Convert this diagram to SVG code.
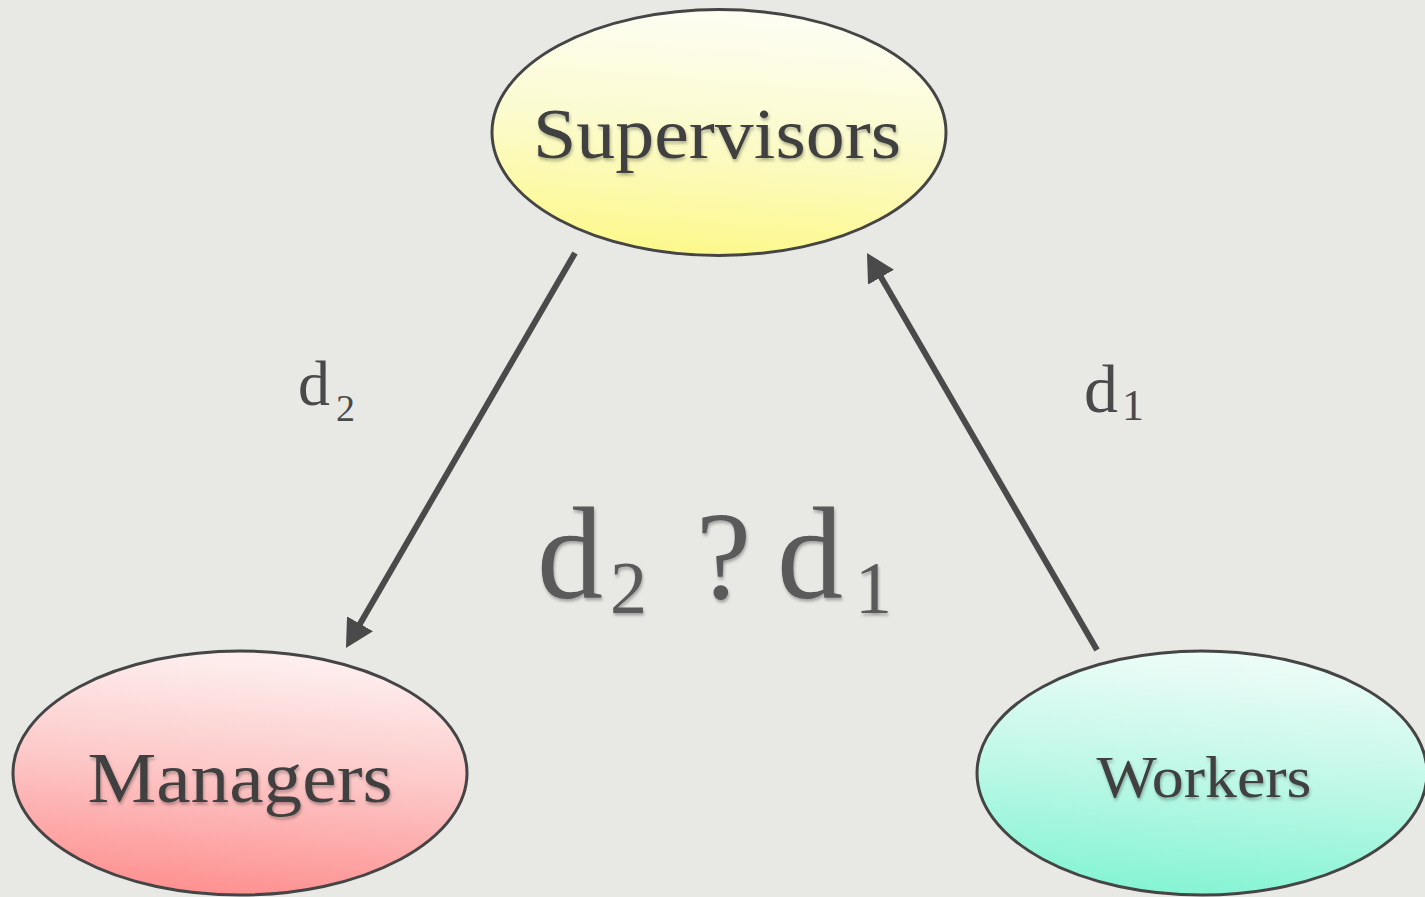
<svg xmlns="http://www.w3.org/2000/svg" width="1425" height="897" viewBox="0 0 1425 897">
  <defs>
    <linearGradient id="gradYellow" x1="0.35" y1="0" x2="0.2" y2="1">
      <stop offset="0" stop-color="#fdfdf2"/>
      <stop offset="0.45" stop-color="#fbfbcf"/>
      <stop offset="1" stop-color="#fdf886"/>
    </linearGradient>
    <linearGradient id="gradRed" x1="0.35" y1="0" x2="0.2" y2="1">
      <stop offset="0" stop-color="#feeeee"/>
      <stop offset="0.45" stop-color="#fdc9c9"/>
      <stop offset="1" stop-color="#fe8c8c"/>
    </linearGradient>
    <linearGradient id="gradTeal" x1="0.35" y1="0" x2="0.2" y2="1">
      <stop offset="0" stop-color="#ecfcf7"/>
      <stop offset="0.45" stop-color="#c2f8e8"/>
      <stop offset="1" stop-color="#80f4d2"/>
    </linearGradient>
    <filter id="textShadow" x="-10%" y="-20%" width="120%" height="150%">
      <feDropShadow dx="1" dy="2.5" stdDeviation="1.8" flood-color="#000" flood-opacity="0.3"/>
    </filter>
    <marker id="arrowHead" viewBox="0 0 28 30" refX="8" refY="15" markerWidth="28" markerHeight="30" markerUnits="userSpaceOnUse" orient="auto">
      <path d="M0,0 L28,15 L0,30 Z" fill="#4a4a4a"/>
    </marker>
  </defs>
  <style>
    .node { stroke: #454545; stroke-width: 3; }
    .label { font-family: "Liberation Serif", "DejaVu Serif", serif; fill: #3f3f3f; filter: url(#textShadow); }
    .edgeLabel { font-family: "Liberation Serif", "DejaVu Serif", serif; fill: #4a4a4a; }
    .bigLabel { font-family: "Liberation Serif", "DejaVu Serif", serif; fill: #5a5a5a; filter: url(#textShadow); }
    .edge { stroke: #4a4a4a; stroke-width: 6; fill: none; marker-end: url(#arrowHead); }
  </style>

  <!-- backdrop -->
  <rect width="1425" height="897" fill="#e8e8e5"/>

  <!-- connectors -->
  <g id="connectors">
    <line class="edge" x1="575" y1="253" x2="356" y2="630.7"/>
    <line class="edge" x1="1097" y1="650" x2="877" y2="270.3"/>
    <text class="edgeLabel"><tspan x="298" y="405" font-size="64">d</tspan><tspan x="336" y="421" font-size="38">2</tspan></text>
    <text class="edgeLabel"><tspan x="1084" y="412" font-size="68">d</tspan><tspan x="1122" y="420" font-size="44">1</tspan></text>
  </g>

  <!-- nodes -->
  <g id="supervisors">
    <ellipse class="node" cx="719" cy="132.5" rx="227" ry="123" fill="url(#gradYellow)"/>
    <text class="label" x="717" y="158" font-size="72" text-anchor="middle" textLength="368" lengthAdjust="spacingAndGlyphs">Supervisors</text>
  </g>
  <g id="managers">
    <ellipse class="node" cx="240" cy="773" rx="227" ry="122" fill="url(#gradRed)"/>
    <text class="label" x="240" y="802" font-size="72" text-anchor="middle" textLength="305" lengthAdjust="spacingAndGlyphs">Managers</text>
  </g>
  <g id="workers">
    <ellipse class="node" cx="1202" cy="773" rx="225" ry="122" fill="url(#gradTeal)"/>
    <text class="label" x="1204" y="797" font-size="60" text-anchor="middle" textLength="215" lengthAdjust="spacingAndGlyphs">Workers</text>
  </g>

  <!-- central comparison -->
  <g id="comparison">
    <text class="bigLabel"><tspan x="537" y="598" font-size="132">d</tspan><tspan x="610" y="613" font-size="74">2</tspan><tspan x="696" y="598" font-size="124">?</tspan><tspan x="777" y="598" font-size="132">d</tspan><tspan x="855" y="613" font-size="74">1</tspan></text>
  </g>
</svg>
